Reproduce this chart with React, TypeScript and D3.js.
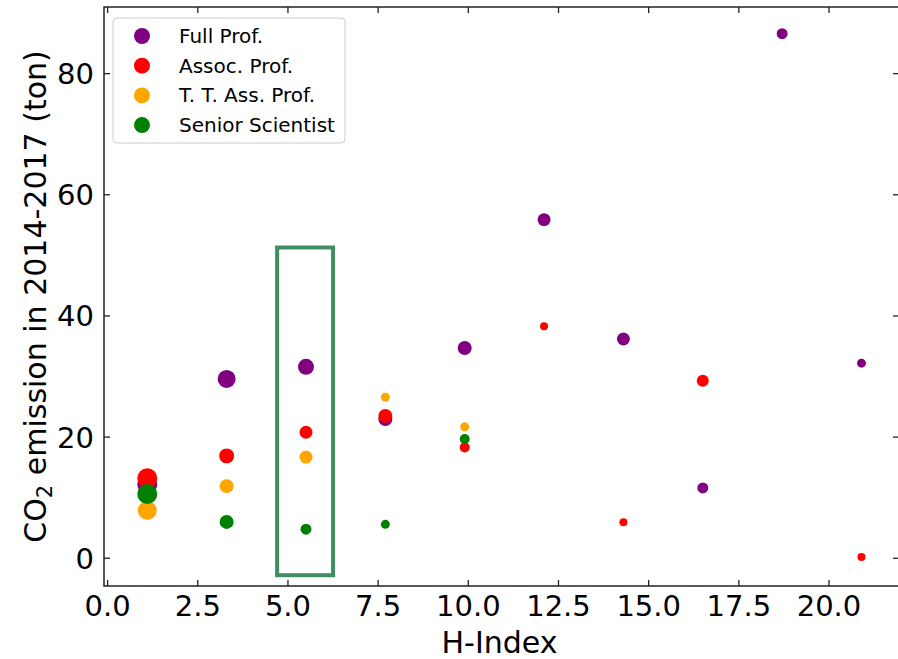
import * as d3 from "d3";

// H-index buckets (same for every group)
const hIndex = [1.1, 3.3, 5.5, 7.7, 9.9, 12.1, 14.3, 16.5, 18.7, 20.9];

// CO2 emission 2014-2017 (ton) per group
const fullH = [1.1, 3.3, 5.5, 7.7, 9.9, 12.1, 14.3, 16.5, 18.7, 20.9];
const fullCo2 = [12.2, 29.6, 31.6, 23.0, 34.7, 55.9, 36.2, 11.6, 86.6, 32.2];
const fullN = [100, 81, 64, 49, 49, 42, 42, 30, 30, 20];

const assocH = [1.1, 3.3, 5.5, 7.7, 9.9, 12.1, 14.3, 16.5, 20.9];
const assocCo2 = [13.2, 16.9, 20.8, 23.5, 18.3, 38.3, 5.95, 29.3, 0.2];
const assocN = [100, 56, 42, 49, 25, 16, 16, 36, 16];

const ttH = [1.1, 3.3, 5.5, 7.7, 9.9];
const ttCo2 = [7.9, 11.9, 16.7, 26.6, 21.7];
const ttN = [90, 49, 42, 20, 20];

const seniorH = [1.1, 3.3, 5.5, 7.7, 9.9];
const seniorCo2 = [10.6, 6.0, 4.8, 5.6, 19.7];
const seniorN = [100, 49, 30, 20, 25];

const groupNames = ["Full Prof.", "Assoc. Prof.", "T. T. Ass. Prof.", "Senior Scientist"];
const groupColors = ["purple", "red", "orange", "green"];

const xTicks = [0, 2.5, 5, 7.5, 10, 12.5, 15, 17.5, 20];
const yTicks = [0, 20, 40, 60, 80];

// highlighted box around H-index 5.5 (data coords)
const boxX = [4.7, 6.25];
const boxY = [-2.8, 51.3];

const W = 898;
const H = 659;
const left = 104;
const right = 899;
const top = 7;
const bottom = 586;
const font = "DejaVu Sans, sans-serif";

export default function App() {
  const x = d3.scaleLinear().domain([-0.1, 21.94]).range([left, right]);
  const y = d3.scaleLinear().domain([-4.58, 91.0]).range([bottom, top]);
  const r = d3.scaleSqrt().domain([0, 100]).range([0, 10]);

  const groups = [
    { xs: fullH, ys: fullCo2, ns: fullN },
    { xs: assocH, ys: assocCo2, ns: assocN },
    { xs: ttH, ys: ttCo2, ns: ttN },
    { xs: seniorH, ys: seniorCo2, ns: seniorN },
  ];

  return (
    <svg
      width={W}
      height={H}
      style={{ position: "absolute", left: 0, top: 0, background: "white" }}
      fontFamily={font}
    >
      {/* points */}
      {groups.map((g, gi) => (
        <g key={gi} fill={groupColors[gi]}>
          {g.xs.map((v, i) => (
            <circle key={i} cx={x(v)} cy={y(g.ys[i])} r={r(g.ns[i])} />
          ))}
        </g>
      ))}

      {/* highlight box */}
      <rect
        x={x(boxX[0])}
        y={y(boxY[1])}
        width={x(boxX[1]) - x(boxX[0])}
        height={y(boxY[0]) - y(boxY[1])}
        fill="none"
        stroke="#3f8f60"
        strokeWidth={4}
      />

      {/* frame */}
      <rect
        x={left}
        y={top}
        width={right - left}
        height={bottom - top}
        fill="none"
        stroke="#222"
        strokeWidth={1.5}
      />

      {/* x ticks (inward, bottom + top) */}
      {xTicks.map((t) => (
        <g key={t}>
          <line x1={x(t)} x2={x(t)} y1={bottom} y2={bottom - 6} stroke="#222" strokeWidth={1.3} />
          <line x1={x(t)} x2={x(t)} y1={top} y2={top + 6} stroke="#222" strokeWidth={1.3} />
          <text x={x(t)} y={616} textAnchor="middle" fontSize={29} fill="#000">
            {d3.format(".1f")(t)}
          </text>
        </g>
      ))}

      {/* y ticks (inward, left + right) */}
      {yTicks.map((t) => (
        <g key={t}>
          <line x1={left} x2={left + 6} y1={y(t)} y2={y(t)} stroke="#222" strokeWidth={1.3} />
          <line x1={right} x2={right - 6} y1={y(t)} y2={y(t)} stroke="#222" strokeWidth={1.3} />
          <text x={94} y={y(t) + 10.5} textAnchor="end" fontSize={29} fill="#000">
            {t}
          </text>
        </g>
      ))}

      {/* axis labels */}
      <text x={(left + right) / 2 - 2} y={653} textAnchor="middle" fontSize={30} fill="#000">
        H-Index
      </text>
      <text
        transform={`translate(46,${(top + bottom) / 2}) rotate(-90)`}
        textAnchor="middle"
        fontSize={30}
        fill="#000"
      >
        CO
        <tspan fontSize={21} dy={6}>2</tspan>
        <tspan dy={-6}> emission in 2014-2017 (ton)</tspan>
      </text>

      {/* legend */}
      <rect x={113} y={18} width={232} height={125} rx={4} fill="white" fillOpacity={0.8} stroke="#ccc" />
      {groupNames.map((name, i) => (
        <g key={name} transform={`translate(0,${36 + i * 29.7})`}>
          <circle cx={142} cy={0} r={8} fill={groupColors[i]} />
          <text x={179} y={7} fontSize={20} fill="#000">
            {name}
          </text>
        </g>
      ))}
    </svg>
  );
}
